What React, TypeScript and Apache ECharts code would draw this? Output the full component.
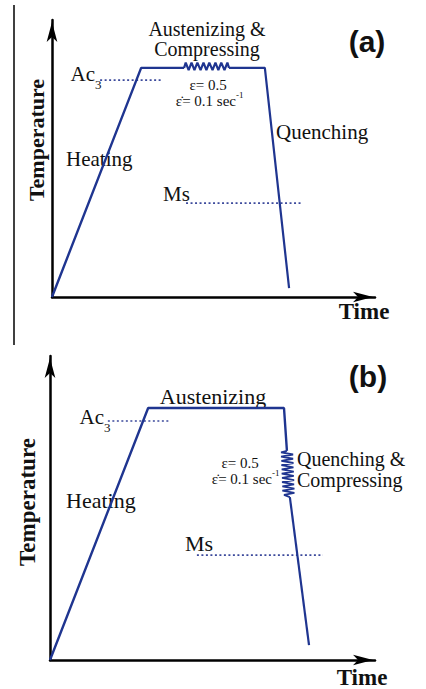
import React, { useEffect, useRef } from "react";
import * as echarts from "echarts";

// Panel (a): heating -> austenizing & compressing -> quenching (time, temperature in % of axis)
const heatHoldA = [[0, 0], [27.6, 82.7], [40.9, 82.7]];
const springA = [
  [40.9, 82.7], [41.4, 84.6], [42.3, 81.9], [43.2, 84.6], [44.1, 81.9], [45.0, 84.6],
  [46.0, 81.9], [46.9, 84.6], [47.8, 81.9], [48.7, 84.6], [49.7, 81.9], [50.6, 84.6],
  [51.5, 81.9], [52.4, 84.6], [53.4, 81.9], [54.3, 84.6], [54.8, 82.7],
];
const holdQuenchA = [[54.8, 82.7], [65.9, 82.7], [73.4, 3.2]];
const ac3A = [[14.9, 78.3], [34.1, 78.3]];
const msA = [[41.5, 33.9], [77.4, 33.9]];

// Panel (b): heating -> austenizing -> quenching & compressing
const heatHoldB = [[0, 0], [30.2, 82.9], [72.0, 82.9], [72.9, 68.8]];
const springB = [
  [72.9, 68.8], [71.1, 68.3], [74.8, 67.6], [71.1, 66.9], [74.8, 66.2], [71.2, 65.5],
  [74.9, 64.8], [71.2, 64.1], [74.9, 63.4], [71.3, 62.7], [75.0, 62.0], [71.3, 61.3],
  [75.0, 60.6], [71.4, 59.9], [75.1, 59.2], [71.4, 58.5], [75.1, 57.8], [71.5, 57.1],
  [75.2, 56.4], [71.5, 55.7], [75.2, 55.0], [72.0, 54.3], [73.8, 53.6],
];
const quenchB = [[73.8, 53.6], [79.7, 4.9]];
const ac3B = [[17.8, 78.6], [36.9, 78.6]];
const msB = [[45.2, 34.5], [84.0, 34.5]];

const SERIF = "'Liberation Serif', 'Times New Roman', serif";
const SANS = "'Liberation Sans', Arial, sans-serif";
const BLUE = "#1f3590";
const DOT = "#3c4a9c";

function txt(x: number, y: number, text: string, fontSize: number, opts: any = {}) {
  return {
    type: "text",
    x,
    y,
    rotation: opts.rotation || 0,
    style: {
      text,
      fontSize,
      fontFamily: opts.family || SERIF,
      fontWeight: opts.bold ? "bold" : "normal",
      fill: "#111",
      align: opts.align || "center",
      verticalAlign: "middle",
    },
  };
}

function axis(gridIndex: number) {
  return {
    type: "value",
    gridIndex,
    min: 0,
    max: 100,
    axisLine: {
      show: true,
      onZero: false,
      symbol: ["none", "arrow"],
      symbolSize: [8, 20],
      symbolOffset: [0, -2],
      lineStyle: { color: "#000", width: 2.5 },
    },
    axisTick: { show: false },
    axisLabel: { show: false },
    splitLine: { show: false },
  };
}

function line(data: number[][], idx: number, width: number, dotted = false) {
  return {
    type: "line",
    xAxisIndex: idx,
    yAxisIndex: idx,
    data,
    showSymbol: false,
    symbol: "none",
    silent: true,
    lineStyle: dotted
      ? { color: DOT, width: 1.6, type: [2, 2.5] }
      : { color: BLUE, width },
  };
}

export default function App() {
  const ref = useRef<HTMLDivElement>(null);
  useEffect(() => {
    const chart = echarts.init(ref.current!, null, { renderer: "svg" });
    chart.setOption({
      animation: false,
      backgroundColor: "#fff",
      grid: [
        { left: 52, top: 20, width: 323, height: 277 },
        { left: 50, top: 356, width: 325, height: 304 },
      ],
      xAxis: [axis(0), axis(1)],
      yAxis: [axis(0), axis(1)],
      series: [
        line(ac3A, 0, 1, true),
        line(msA, 0, 1, true),
        line(heatHoldA, 0, 2.4),
        line(springA, 0, 2.2),
        line(holdQuenchA, 0, 2.2),
        line(ac3B, 1, 1, true),
        line(msB, 1, 1, true),
        line(heatHoldB, 1, 2.4),
        line(springB, 1, 1.8),
        line(quenchB, 1, 2.2),
      ],
      graphic: [
        { type: "line", shape: { x1: 14, y1: 5, x2: 14, y2: 345 }, style: { stroke: "#000", lineWidth: 1.5 } },
        // panel (a)
        txt(367, 41, "(a)", 30, { family: SANS, bold: true }),
        txt(207, 29, "Austenizing &", 20),
        txt(207, 49, "Compressing", 20),
        txt(95, 74, "Ac", 21, { align: "right" }),
        txt(95, 84, "3", 13, { align: "left" }),
        txt(208, 85, "ε= 0.5", 15),
        txt(236, 101, "\u03B5\u0307= 0.1 sec", 15, { align: "right" }),
        txt(236, 95, "-1", 9, { align: "left" }),
        txt(276, 132, "Quenching", 21, { align: "left" }),
        txt(66, 159, "Heating", 21, { align: "left" }),
        txt(163, 194, "Ms", 21, { align: "left" }),
        txt(364, 311, "Time", 23, { bold: true }),
        txt(36, 140, "Temperature", 22, { bold: true, rotation: Math.PI / 2 }),
        // panel (b)
        txt(368, 376, "(b)", 30, { family: SANS, bold: true }),
        txt(213, 396, "Austenizing", 22),
        txt(104, 417, "Ac", 21, { align: "right" }),
        txt(104, 427, "3", 13, { align: "left" }),
        txt(240, 463, "ε= 0.5", 15),
        txt(272, 479, "\u03B5\u0307= 0.1 sec", 15, { align: "right" }),
        txt(272, 473, "-1", 9, { align: "left" }),
        txt(297, 459, "Quenching &", 20, { align: "left" }),
        txt(297, 480, "Compressing", 20, { align: "left" }),
        txt(66, 500, "Heating", 22, { align: "left" }),
        txt(185, 543, "Ms", 22, { align: "left" }),
        txt(362, 677, "Time", 23, { bold: true }),
        txt(27, 502, "Temperature", 23, { bold: true, rotation: Math.PI / 2 }),
      ],
    });
    return () => chart.dispose();
  }, []);
  return (
    <div
      ref={ref}
      style={{ position: "fixed", left: 0, top: 0, width: 426, height: 689, background: "#fff" }}
    />
  );
}
